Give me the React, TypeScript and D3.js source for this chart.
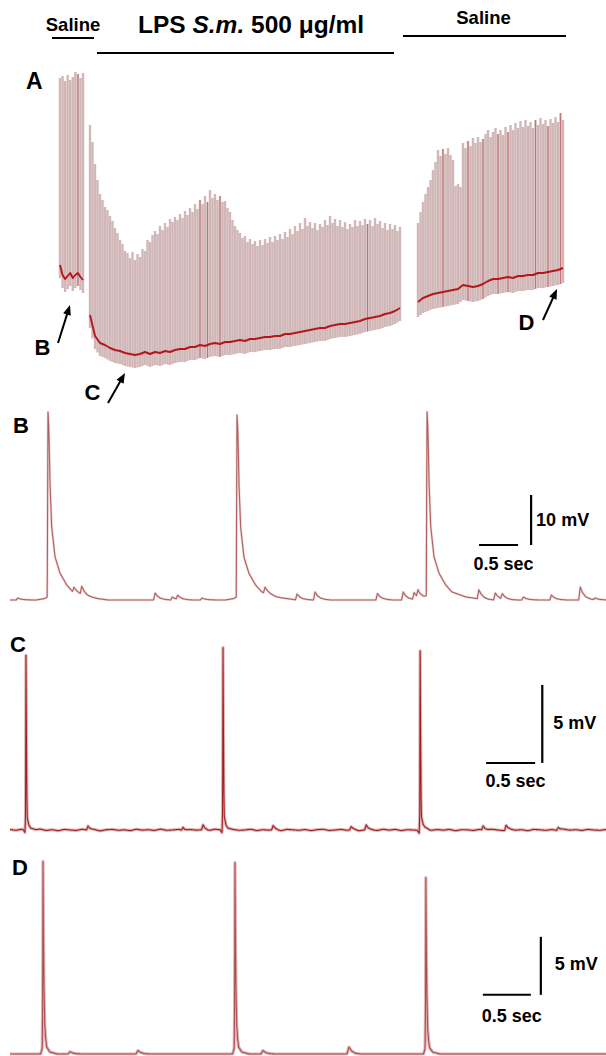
import React from "react";
import * as d3 from "d3";

// ================= DATA =================
// Panel A: slow-time-base recording, three segments (Saline | LPS S.m. | Saline)
// time in arbitrary units, potential in relative units (a.u.)
const segLabels = ["Saline", "LPS S.m. 500 μg/ml", "Saline"];
const segSpan: number[][] = [[0, 23], [30, 340], [358, 503]];

const seg1Peaks = [292, 294, 289, 295, 290, 293, 298, 296, 292, 297];
const seg2Peaks = [
  245, 228, 206, 190, 176, 170, 163, 160, 154, 149,
  142, 137, 130, 126, 119, 117, 112, 118, 110, 116,
  113, 121, 119, 130, 128, 135, 139, 136, 144, 140,
  147, 143, 151, 148, 153, 150, 156, 152, 159, 155,
  162, 158, 166, 161, 170, 166, 174, 168, 180, 172,
  176, 170, 174, 168, 169, 162, 158, 150, 144, 140,
  137, 132, 134, 128, 131, 126, 129, 124, 130, 125,
  131, 127, 133, 128, 134, 130, 136, 131, 138, 133,
  141, 136, 144, 139, 147, 141, 152, 144, 148, 142,
  147, 140, 146, 143, 150, 145, 154, 147, 151, 144,
  150, 143, 148, 141, 146, 143, 150, 144, 149, 145,
  151, 146, 150, 144, 152, 146, 149, 142, 147, 140,
  146, 141, 145, 139, 143,
];
const seg3Peaks = [
  147, 158, 168, 176, 183, 190, 200, 208, 220, 214,
  221, 216, 222, 215, 210, 184, 186, 183, 227, 222,
  229, 224, 232, 227, 233, 228, 231, 236, 240, 233,
  238, 242, 236, 240, 235, 243, 238, 245, 240, 247,
  242, 249, 243, 250, 244, 248, 242, 250, 245, 252,
  246, 250, 244, 251, 247, 253, 248, 257, 250,
];
const seg1Base = [105, 95, 91, 94, 97, 92, 95, 97, 93, 90];
const seg2Base = [
  55, 34, 27, 25, 22, 20, 19, 17, 16, 15, 16, 18, 16, 18, 17, 19, 18, 20, 21, 21,
  23, 23, 25, 24, 26, 27, 26, 28, 28, 29, 30, 29, 31, 31, 32, 33, 33, 34, 34, 36,
  36, 37, 38, 39, 40, 41, 42, 42, 44, 45, 46, 46, 47, 48, 49, 51, 52, 53, 54, 56,
  57, 59, 62,
];
const seg3Base = [
  68, 72, 74, 76, 77, 78, 79, 80, 81, 85, 84, 83, 84, 86, 89, 91, 91, 92, 93, 92,
  94, 94, 95, 95, 97, 97, 98, 99, 100, 102,
];
const ahpDepth = [13, 13, 15];
const seg1Red = [7];
const seg2Red = [44, 47, 52, 111];
const seg3Red = [10, 20, 26, 32, 36, 47, 52, 57];

// Panel B (saline) — seconds / mV
const bDuration = 7.64;
const bRest = -60;
const bSpikeTimes = [0.487, 2.91, 5.346];
const bSpikePeaks = [-22.4, -23.0, -22.6];
const bPspTimes = [0.1, 0.82, 0.92, 1.86, 2.08, 2.15, 2.46, 3.27, 3.68, 3.91, 4.71, 5.04, 5.18, 5.23, 6.01, 6.22, 6.31, 6.58, 6.94, 7.31, 7.5];
const bPspAmps = [0.4, 1.0, 1.6, 1.4, 0.6, 0.8, 0.4, 1.2, 1.2, 1.6, 1.3, 1.6, 1.4, 1.4, 1.8, 1.4, 1.0, 0.6, 1.0, 2.6, 0.4];
// waveform templates: [ms from peak, fraction of amplitude]
const bSpikeShape = [[-150, 0], [-40, 0.008], [-10, 0.016], [0, 1], [9, 0.93], [17, 0.8], [26, 0.62], [47, 0.39], [90, 0.23], [154, 0.143], [240, 0.08], [320, 0.043], [500, 0.016], [770, 0]];
const bPspShape = [[-20, 0], [0, 1], [30, 0.55], [70, 0.25], [130, 0.08], [200, 0]];

// Panel C (LPS)
const cDuration = 6.08;
const cRest = -60;
const cSpikeTimes = [0.163, 2.173, 4.184];
const cSpikePeaks = [-48.8, -48.3, -48.5];
const cPspTimes = [0.796, 1.765, 1.969, 2.684, 3.48, 3.633, 4.827, 5.061, 5.592];
const cPspAmps = [0.26, 0.2, 0.32, 0.26, 0.2, 0.32, 0.26, 0.32, 0.2];
const cSpikeShape = [[-30, 0], [-10, -0.015], [-4, 0.1], [0, 1], [5, 0.5], [9, 0.2], [13, 0.075], [30, 0.03], [50, 0.012], [100, 0]];
const cPspShape = [[-15, 0], [0, 1], [20, 0.4], [50, 0.1], [80, 0]];
const cNoise = [
  0.03, -0.02, 0.05, -0.04, 0.01, 0.06, -0.03, 0.02, -0.05, 0.04, 0.0, -0.03, 0.05, -0.01, 0.03, -0.06, 0.02, 0.04, -0.02, 0.01,
  -0.04, 0.05, -0.01, 0.02, -0.03, 0.06, -0.02, 0.0, 0.04, -0.05, 0.03, -0.01, 0.02, -0.04, 0.05, 0.01, -0.03, 0.04, -0.02, 0.0,
  0.05, -0.04, 0.02, -0.01, 0.03, -0.05, 0.04, 0.01, -0.02, 0.03, -0.04, 0.02, 0.05, -0.03, 0.0, 0.04, -0.02, 0.03, -0.05, 0.01,
  0.02, -0.03, 0.05, -0.01, 0.04, -0.04, 0.02, 0.0, -0.03, 0.05, -0.02, 0.03, -0.01, 0.04, -0.05, 0.02, 0.01, -0.03, 0.04, -0.02,
  0.05, 0.0, -0.04, 0.03, -0.01, 0.02, -0.05, 0.04, 0.01, -0.02, 0.03, -0.04, 0.05, -0.01, 0.02, -0.03, 0.04, 0.0, -0.02, 0.03,
];

// Panel D (saline wash)
const dDuration = 6.21;
const dRest = -60;
const dSpikeTimes = [0.344, 2.344, 4.333];
const dSpikePeaks = [-43.4, -43.5, -44.8];
const dPspTimes = [0.625, 1.333, 2.635, 3.531];
const dPspAmps = [0.2, 0.3, 0.3, 0.6];
const dSpikeShape = [[-25, 0], [-8, 0.03], [-3, 0.3], [0, 1], [5, 0.6], [10, 0.35], [18, 0.15], [28, 0.08], [38, 0.036], [73, 0.01], [150, 0]];
const dPspShape = [[-20, 0], [0, 1], [30, 0.4], [70, 0.1], [120, 0]];

// scale-bar values
const barLabels = ["10 mV", "5 mV", "5 mV"];
const barMv = [10, 5, 5];
const barSec = 0.5;

// ================= LAYOUT =================
const W = 606;
const H = 1056;
const FONT = "'Liberation Sans', Arial, Helvetica, sans-serif";

const xA = d3.scaleLinear().domain([0, 503]).range([60, 563]);
const yA = d3.scaleLinear().domain([0, 300]).range([370, 70]);

const xB = d3.scaleLinear().domain([0, bDuration]).range([10, 606]);
const yB = d3.scaleLinear().domain([-60, -20]).range([600, 400]);
const xC = d3.scaleLinear().domain([0, cDuration]).range([10, 606]);
const yC = d3.scaleLinear().domain([-60, -50]).range([830, 674]);
const xD = d3.scaleLinear().domain([0, dDuration]).range([10, 606]);
const yD = d3.scaleLinear().domain([-60, -50]).range([1054, 938]);

function kernel(shape: number[][]) {
  return d3
    .scaleLinear()
    .domain(shape.map((p) => p[0] / 1000))
    .range(shape.map((p) => p[1]))
    .clamp(true);
}

function buildTrace(
  dur: number,
  rest: number,
  spikeT: number[],
  spikeV: number[],
  spikeShape: number[][],
  pspT: number[],
  pspA: number[],
  pspShape: number[][],
  noise?: number[]
): [number, number][] {
  const sk = kernel(spikeShape);
  const pk = kernel(pspShape);
  const grid = d3.range(0, dur + 1e-9, 0.002).concat(spikeT).sort(d3.ascending);
  const nz = noise
    ? d3.scaleLinear().domain(noise.map((_, i) => (i * dur) / (noise.length - 1))).range(noise)
    : null;
  return grid.map((t) => {
    let v = rest;
    spikeT.forEach((s, i) => (v += (spikeV[i] - rest) * sk(t - s)));
    pspT.forEach((s, i) => (v += pspA[i] * pk(t - s)));
    if (nz) v += nz(t);
    return [t, v];
  });
}

function Arrow({ x1, y1, x2, y2 }: { x1: number; y1: number; x2: number; y2: number }) {
  const dx = x2 - x1;
  const dy = y2 - y1;
  const L = Math.hypot(dx, dy);
  const ux = dx / L;
  const uy = dy / L;
  const hl = 10;
  const hw = 4;
  const bx = x2 - ux * hl;
  const by = y2 - uy * hl;
  const pts = [
    [x2, y2],
    [bx - uy * hw, by + ux * hw],
    [bx + uy * hw, by - ux * hw],
  ];
  return (
    <g>
      <line x1={x1} y1={y1} x2={bx + ux * 2} y2={by + uy * 2} stroke="#000" strokeWidth={2} />
      <polygon points={pts.map((p) => p.join(",")).join(" ")} fill="#000" />
    </g>
  );
}

function TracePanel({
  data,
  x,
  y,
  under,
  underW,
  core,
  coreW,
}: {
  data: [number, number][];
  x: d3.ScaleLinear<number, number>;
  y: d3.ScaleLinear<number, number>;
  under: string;
  underW: number;
  core: string;
  coreW: number;
}) {
  const line = d3
    .line<[number, number]>()
    .x((d) => x(d[0]))
    .y((d) => y(d[1]));
  const d = line(data) || "";
  return (
    <g>
      <path d={d} fill="none" stroke={under} strokeWidth={underW} strokeLinejoin="round" />
      <path d={d} fill="none" stroke={core} strokeWidth={coreW} strokeLinejoin="round" />
    </g>
  );
}

function ScaleBar({
  x,
  y,
  t0,
  v0,
  vBarT,
  mv,
  label,
  mvDx,
  mvDy,
  secDy,
}: {
  x: d3.ScaleLinear<number, number>;
  y: d3.ScaleLinear<number, number>;
  t0: number;
  v0: number;
  vBarT: number;
  mv: number;
  label: string;
  mvDx: number;
  mvDy: number;
  secDy: number;
}) {
  const xh0 = x(t0);
  const xh1 = x(t0 + barSec);
  const yb = y(v0);
  const xv = x(vBarT);
  const yt = y(v0 + mv);
  return (
    <g>
      <line x1={xh0} x2={xh1} y1={yb} y2={yb} stroke="#000" strokeWidth={2} />
      <line x1={xv} x2={xv} y1={yb} y2={yt} stroke="#000" strokeWidth={2.2} />
      <text x={xv + mvDx} y={(yb + yt) / 2 + mvDy} fontSize={18} fontWeight="bold">
        {label}
      </text>
      <text x={(xh0 + xh1) / 2 + 5} y={yb + secDy} fontSize={18} fontWeight="bold" textAnchor="middle">
        0.5 sec
      </text>
    </g>
  );
}

export default function App() {
  const peaksA = [seg1Peaks, seg2Peaks, seg3Peaks];
  const baseA = [seg1Base, seg2Base, seg3Base];
  const redA = [seg1Red, seg2Red, seg3Red];

  const traceB = buildTrace(bDuration, bRest, bSpikeTimes, bSpikePeaks, bSpikeShape, bPspTimes, bPspAmps, bPspShape);
  const traceC = buildTrace(cDuration, cRest, cSpikeTimes, cSpikePeaks, cSpikeShape, cPspTimes, cPspAmps, cPspShape, cNoise);
  const traceD = buildTrace(dDuration, dRest, dSpikeTimes, dSpikePeaks, dSpikeShape, dPspTimes, dPspAmps, dPspShape);

  const arrows = [
    { label: "B", from: [-2, 27], to: [10, 65], text: [-17.5, 15] },
    { label: "C", from: [48, -33], to: [65, -3], text: [32.5, -30] },
    { label: "D", from: [483, 50], to: [497, 81], text: [466.5, 40] },
  ];

  return (
    <svg
      width={W}
      height={H}
      viewBox={`0 0 ${W} ${H}`}
      style={{ position: "absolute", left: 0, top: 0, background: "#fff" }}
      fontFamily={FONT}
    >
      <rect width={W} height={H} fill="#fff" />

      {/* header */}
      <text x={73} y={31} fontSize={18.5} fontWeight="bold" textAnchor="middle">
        {segLabels[0]}
      </text>
      <line x1={52} x2={94} y1={38} y2={38} stroke="#000" strokeWidth={2.2} />
      <text x={138} y={33} fontSize={24.5} fontWeight="bold">
        LPS <tspan fontStyle="italic">S.m.</tspan> 500 μg/ml
      </text>
      <line x1={97} x2={394} y1={53} y2={53} stroke="#000" strokeWidth={2.2} />
      <text x={483.5} y={24} fontSize={18.5} fontWeight="bold" textAnchor="middle">
        {segLabels[2]}
      </text>
      <line x1={403} x2={566} y1={36} y2={36} stroke="#000" strokeWidth={2.2} />

      {/* Panel A */}
      <text x={26} y={89} fontSize={23} fontWeight="bold">
        A
      </text>
      {segSpan.map(([t0, t1], s) => {
        const peaks = peaksA[s];
        const base = baseA[s];
        const bt = base.map((_, j) => t0 + (j * (t1 - t0)) / (base.length - 1));
        const baseAt = d3.scaleLinear().domain(bt).range(base);
        const ln = d3
          .line<number>()
          .x((_, j) => xA(bt[j]))
          .y((v) => yA(v));
        return (
          <g key={s}>
            {peaks.map((p, i) => {
              const t = t0 + (i * (t1 - t0)) / (peaks.length - 1);
              return (
                <line
                  key={i}
                  x1={xA(t)}
                  x2={xA(t)}
                  y1={yA(baseAt(t) - ahpDepth[s])}
                  y2={yA(p)}
                  stroke="#b58a8a"
                  strokeOpacity={0.62}
                  strokeWidth={2.4}
                />
              );
            })}
            {peaks.map((p, i) => {
              if (!redA[s].includes(i)) return null;
              const t = t0 + (i * (t1 - t0)) / (peaks.length - 1);
              return (
                <line
                  key={"r" + i}
                  x1={xA(t)}
                  x2={xA(t)}
                  y1={yA(baseAt(t) - ahpDepth[s])}
                  y2={yA(p)}
                  stroke="#c0383c"
                  strokeOpacity={0.55}
                  strokeWidth={1}
                />
              );
            })}
            <path d={ln(base) || ""} fill="none" stroke="#b3171c" strokeWidth={1.9} strokeLinejoin="round" />
          </g>
        );
      })}
      {arrows.map((a) => (
        <g key={a.label}>
          <Arrow x1={xA(a.from[0])} y1={yA(a.from[1])} x2={xA(a.to[0])} y2={yA(a.to[1])} />
          <text x={xA(a.text[0])} y={yA(a.text[1])} fontSize={22} fontWeight="bold" textAnchor="middle">
            {a.label}
          </text>
        </g>
      ))}

      {/* Panel B */}
      <text x={13} y={433} fontSize={22} fontWeight="bold">
        B
      </text>
      <TracePanel data={traceB} x={xB} y={yB} under="#ecd6d6" underW={2.4} core="#b25e5e" coreW={1.1} />
      <ScaleBar x={xB} y={yB} t0={6.013} v0={-49} vBarT={6.68} mv={barMv[0]} label={barLabels[0]} mvDx={5} mvDy={6} secDy={25} />

      {/* Panel C */}
      <text x={10} y={652} fontSize={22} fontWeight="bold">
        C
      </text>
      <TracePanel data={traceC} x={xC} y={yC} under="#dfb5b5" underW={3.2} core="#a11f22" coreW={1.1} />
      <ScaleBar x={xC} y={yC} t0={4.857} v0={-55.7} vBarT={5.43} mv={barMv[1]} label={barLabels[1]} mvDx={11} mvDy={5} secDy={24} />

      {/* Panel D */}
      <text x={12} y={875} fontSize={22} fontWeight="bold">
        D
      </text>
      <TracePanel data={traceD} x={xD} y={yD} under="#dfb5b5" underW={3.2} core="#ad4f52" coreW={1.1} />
      <ScaleBar x={xD} y={yD} t0={4.927} v0={-54.9} vBarT={5.531} mv={barMv[2]} label={barLabels[2]} mvDx={14} mvDy={4} secDy={27} />
    </svg>
  );
}
